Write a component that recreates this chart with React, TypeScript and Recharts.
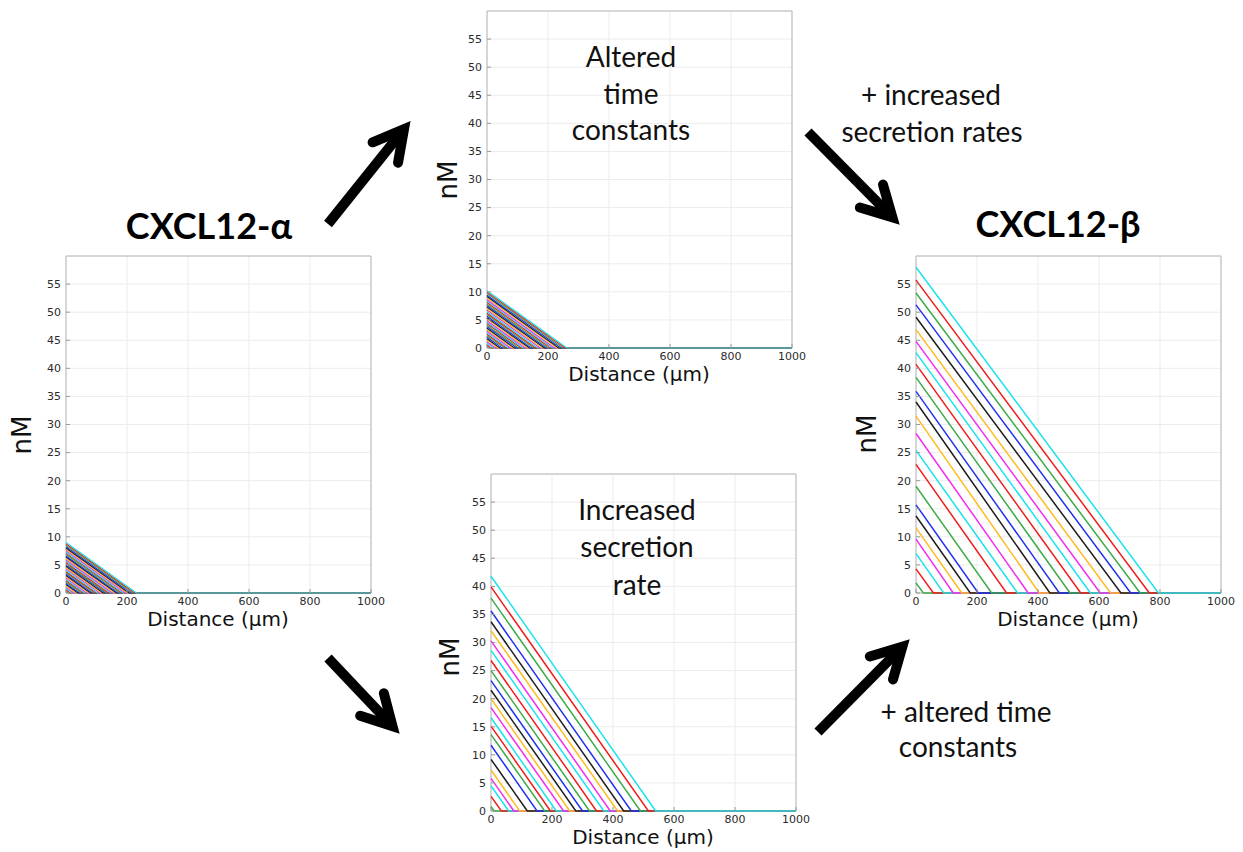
import React from 'react'
import { LineChart, Line, XAxis, YAxis, CartesianGrid, ReferenceArea } from 'recharts'

const xTicks = [0, 200, 400, 600, 800, 1000]
const yTicks = [0, 5, 10, 15, 20, 25, 30, 35, 40, 45, 50, 55]
// colour order from the lowest curve upwards
const lineColors = ['#3dab48', '#f01c1c', '#19e3ee', '#f22df0', '#ffbb1f', '#1e1e1e', '#2233ee']

// CXCL12-alpha: value at 0 µm and distance where each curve reaches 0
const alphaStart = [0.3, 0.55, 0.8, 1.0, 1.25, 1.5, 1.7, 1.95, 2.2, 2.4, 2.65, 2.9, 3.1, 3.35, 3.6, 3.8, 4.05, 4.3, 4.5, 4.75, 5.0, 5.2, 5.45, 5.7, 5.9, 6.15, 6.4, 6.6, 6.85, 7.1, 7.3, 7.55, 7.8, 8.0, 8.25, 8.5, 8.75, 9.0]
const alphaEnd = [8, 14, 21, 26, 32, 39, 44, 50, 57, 62, 68, 75, 80, 86, 93, 98, 104, 111, 116, 122, 129, 134, 140, 147, 152, 159, 165, 170, 177, 183, 188, 195, 201, 206, 213, 219, 225, 231]

// altered time constants
const alteredStart = [0.3, 0.55, 0.85, 1.1, 1.4, 1.65, 1.9, 2.2, 2.45, 2.7, 3.0, 3.25, 3.5, 3.8, 4.05, 4.35, 4.6, 4.85, 5.15, 5.4, 5.65, 5.95, 6.2, 6.45, 6.75, 7.0, 7.3, 7.55, 7.8, 8.1, 8.35, 8.6, 8.9, 9.15, 9.4, 9.7, 9.95, 10.2]
const alteredEnd = [8, 14, 22, 28, 36, 42, 49, 57, 63, 69, 77, 84, 90, 98, 104, 112, 118, 125, 132, 139, 145, 153, 159, 166, 174, 180, 188, 194, 201, 208, 215, 221, 229, 235, 242, 249, 256, 262]

// increased secretion rate
const secretionStart = [0.8, 2.6, 4.5, 5.8, 7.3, 9.2, 11.7, 13.6, 15.1, 16.6, 18.4, 20.0, 21.5, 23.2, 25.0, 26.8, 28.6, 30.3, 32.1, 33.7, 35.6, 37.9, 39.9, 41.8]
const secretionEnd = [10, 34, 58, 75, 94, 119, 151, 176, 195, 214, 238, 258, 278, 300, 323, 346, 370, 391, 415, 435, 460, 490, 516, 540]

// CXCL12-beta
const betaStart = [1.8, 4.3, 7.0, 9.6, 11.6, 13.7, 15.7, 19.0, 22.9, 25.4, 28.4, 31.5, 34.0, 35.9, 38.4, 40.7, 42.8, 44.8, 46.9, 49.1, 51.3, 53.4, 55.7, 58.0]
const betaEnd = [24, 57, 91, 122, 150, 178, 204, 248, 297, 333, 368, 404, 439, 470, 505, 540, 572, 604, 638, 672, 704, 735, 765, 795]

const tickStyle = { fontSize: 11, fill: '#2b2b2b', fontFamily: 'DejaVu Sans' }
const matlabFont = 'DejaVu Sans'
const slideFont = 'Lato'

function Panel({ left, top, starts, ends, lineWidth }: { left: number; top: number; starts: number[]; ends: number[]; lineWidth: number }) {
  const series = starts.map((s, i) => [
    { x: 0, y: s },
    { x: ends[i], y: 0 },
    { x: 1000, y: 0 },
  ])
  return (
    <div style={{ position: 'absolute', left: left - 40, top: top - 5 }}>
      <LineChart width={365} height={367} margin={{ top: 5, right: 20, bottom: 0, left: 0 }}>
        <CartesianGrid stroke="#ececec" />
        <XAxis
          type="number"
          dataKey="x"
          domain={[0, 1000]}
          ticks={xTicks}
          interval={0}
          tickLine={{ stroke: '#9a9a9a' }}
          axisLine={false}
          tickSize={-4}
          tickMargin={8}
          height={25}
          tick={tickStyle}
        />
        <XAxis
          xAxisId="top"
          orientation="top"
          type="number"
          domain={[0, 1000]}
          ticks={xTicks}
          interval={0}
          tick={false}
          tickLine={{ stroke: '#9a9a9a' }}
          axisLine={false}
          tickSize={-4}
          height={0}
        />
        <YAxis
          type="number"
          domain={[0, 60]}
          ticks={yTicks}
          interval={0}
          tickLine={{ stroke: '#9a9a9a' }}
          axisLine={false}
          tickSize={-4}
          tickMargin={9}
          width={40}
          tick={tickStyle}
        />
        <YAxis
          yAxisId="right"
          orientation="right"
          type="number"
          domain={[0, 60]}
          ticks={yTicks}
          interval={0}
          tick={false}
          tickLine={{ stroke: '#9a9a9a' }}
          axisLine={false}
          tickSize={-4}
          width={0}
        />
        <ReferenceArea x1={0} x2={1000} y1={0} y2={60} fill="none" stroke="#b8b8b8" />
        {series.map((d, i) => (
          <Line
            key={i}
            data={d}
            dataKey="y"
            type="linear"
            stroke={lineColors[i % lineColors.length]}
            strokeWidth={lineWidth}
            dot={false}
            activeDot={false}
            isAnimationActive={false}
          />
        ))}
      </LineChart>
    </div>
  )
}

function Arrow({ x1, y1, x2, y2 }: { x1: number; y1: number; x2: number; y2: number }) {
  const len = Math.hypot(x1 - x2, y1 - y2)
  const ux = (x1 - x2) / len
  const uy = (y1 - y2) / len
  // pull the tip back so the mitred point lands on the target
  const tx = x2 + ux * 8
  const ty = y2 + uy * 8
  const arm = 34
  const a = 0.5
  const armPt = (t: number) => [
    tx + arm * (ux * Math.cos(t) - uy * Math.sin(t)),
    ty + arm * (ux * Math.sin(t) + uy * Math.cos(t)),
  ]
  const [ax, ay] = armPt(a)
  const [bx, by] = armPt(-a)
  return (
    <g stroke="#000" strokeWidth={10} fill="none">
      <line x1={x1} y1={y1} x2={tx} y2={ty} />
      <polyline points={`${ax},${ay} ${tx},${ty} ${bx},${by}`} strokeLinejoin="miter" strokeLinecap="round" />
    </g>
  )
}

function AxisTitle({ left, top }: { left: number; top: number }) {
  return (
    <text x={left + 152} y={top + 370} textAnchor="middle" fontFamily={matlabFont} fontSize={20} fill="#111">
      Distance (µm)
    </text>
  )
}

export default function App() {
  return (
    <div style={{ position: 'absolute', left: 0, top: 0, width: 1243, height: 852, background: '#fff' }}>
      <Panel left={66} top={256} starts={alphaStart} ends={alphaEnd} lineWidth={1.2} />
      <Panel left={487} top={11} starts={alteredStart} ends={alteredEnd} lineWidth={1.2} />
      <Panel left={491} top={474} starts={secretionStart} ends={secretionEnd} lineWidth={1.5} />
      <Panel left={916} top={256} starts={betaStart} ends={betaEnd} lineWidth={1.5} />

      <svg width={1243} height={852} style={{ position: 'absolute', left: 0, top: 0, pointerEvents: 'none' }}>
        <AxisTitle left={66} top={256} />
        <AxisTitle left={487} top={11} />
        <AxisTitle left={491} top={474} />
        <AxisTitle left={916} top={256} />

        <g fontFamily={matlabFont} fontSize={26} fill="#111" textAnchor="middle">
          <text transform="translate(22,435) rotate(-90)" dy="0.35em">nM</text>
          <text transform="translate(448,180) rotate(-90)" dy="0.35em">nM</text>
          <text transform="translate(450,657) rotate(-90)" dy="0.35em">nM</text>
          <text transform="translate(867,434) rotate(-90)" dy="0.35em">nM</text>
        </g>

        <g fontFamily={slideFont} fontWeight="bold" fontSize={36} fill="#000" textAnchor="middle">
          <text x={209} y={239}>CXCL12-α</text>
          <text x={1058} y={237}>CXCL12-β</text>
        </g>

        <g fontFamily={slideFont} fontSize={28} fill="#111" textAnchor="middle">
          <text x={631} y={67}>Altered</text>
          <text x={631} y={104}>time</text>
          <text x={631} y={140}>constants</text>

          <text x={637} y={520}>Increased</text>
          <text x={637} y={557}>secretion</text>
          <text x={637} y={595}>rate</text>

          <text x={931} y={105}>+ increased</text>
          <text x={932} y={142}>secretion rates</text>

          <text x={966} y={722}>+ altered time</text>
          <text x={958} y={757}>constants</text>
        </g>

        <Arrow x1={328} y1={224} x2={409} y2={123} />
        <Arrow x1={808} y1={132} x2={898} y2={223} />
        <Arrow x1={328} y1={658} x2={398} y2={732} />
        <Arrow x1={818} y1={732} x2={908} y2={641} />
      </svg>
    </div>
  )
}
